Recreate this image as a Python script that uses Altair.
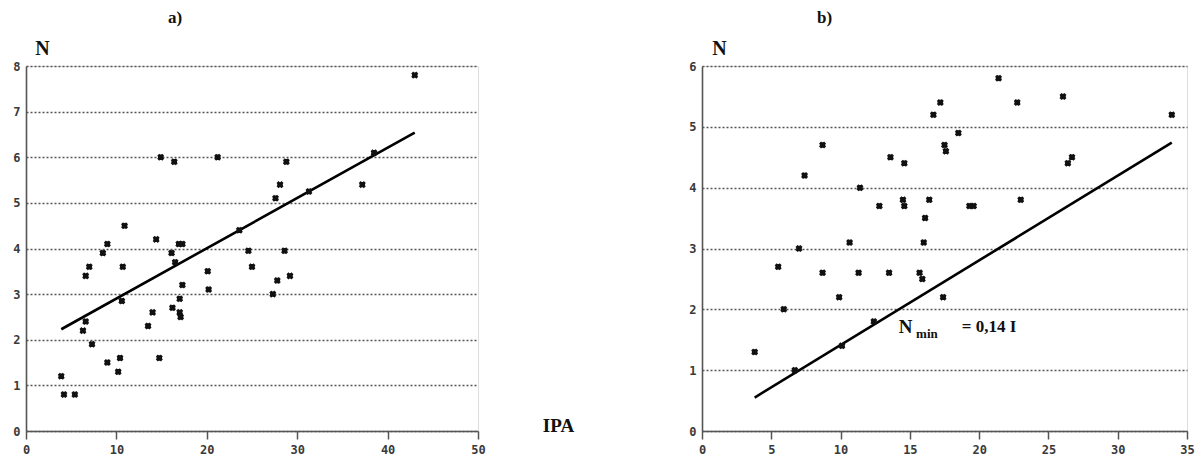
import altair as alt
import pandas as pd

# ---------------- Panel a) data ----------------
a_x = [3.9, 4.2, 5.4, 6.3, 6.6, 6.6, 7.0, 7.3, 8.5, 9.0, 9.0, 10.2, 10.4, 10.6, 10.7, 10.9,
       13.5, 14.0, 14.4, 14.75, 14.9, 16.4, 21.2, 16.1, 16.5, 16.2, 16.9, 17.3, 17.3, 17.0,
       17.0, 17.1, 20.1, 20.2, 24.6, 25.0, 28.6, 29.2, 27.8, 27.3, 43.0, 28.8, 28.1, 27.6,
       37.2, 23.6, 31.3, 38.5]
a_y = [1.2, 0.8, 0.8, 2.2, 2.4, 3.4, 3.6, 1.9, 3.9, 4.1, 1.5, 1.3, 1.6, 2.85, 3.6, 4.5,
       2.3, 2.6, 4.2, 1.6, 6.0, 5.9, 6.0, 3.9, 3.7, 2.7, 4.1, 4.1, 3.2, 2.9,
       2.6, 2.5, 3.5, 3.1, 3.95, 3.6, 3.95, 3.4, 3.3, 3.0, 7.8, 5.9, 5.4, 5.1,
       5.4, 4.4, 5.25, 6.1]
a_line_x = [3.9, 43.0]
a_line_y = [2.23, 6.54]
a_xticks = [0, 10, 20, 30, 40, 50]
a_yticks = [0, 1, 2, 3, 4, 5, 6, 7, 8]

# ---------------- Panel b) data ----------------
b_x = [8.7, 7.4, 11.4, 12.8, 13.6, 14.6, 14.5, 14.6, 16.1, 16.4, 16.7, 17.2, 17.5, 17.6,
       21.4, 22.75, 26.05, 33.9, 18.5, 26.4, 26.7, 19.3, 19.6, 23.0, 3.8, 5.5, 5.9, 7.0,
       6.7, 8.7, 9.9, 10.65, 10.1, 11.3, 12.4, 13.5, 15.7, 15.9, 16.0, 17.4]
b_y = [4.7, 4.2, 4.0, 3.7, 4.5, 4.4, 3.8, 3.7, 3.5, 3.8, 5.2, 5.4, 4.7, 4.6,
       5.8, 5.4, 5.5, 5.2, 4.9, 4.4, 4.5, 3.7, 3.7, 3.8, 1.3, 2.7, 2.0, 3.0,
       1.0, 2.6, 2.2, 3.1, 1.4, 2.6, 1.8, 2.6, 2.6, 2.5, 3.1, 2.2]
b_line_x = [3.8, 33.9]
b_line_y = [0.55, 4.74]
b_xticks = [0, 5, 10, 15, 20, 25, 30, 35]
b_yticks = [0, 1, 2, 3, 4, 5, 6]

ann_x = [14.2, 15.45, 18.75]
ann_y = [1.71, 1.60, 1.71]
ann_text = ["N", "min", "= 0,14 I"]
ann_size = [19, 13, 17]

SERIF = "Liberation Serif"
TICKFONT = "DejaVu Sans Mono"

df_a = pd.DataFrame({"I": a_x, "N": a_y})
df_a_line = pd.DataFrame({"I": a_line_x, "N": a_line_y})
df_b = pd.DataFrame({"I": b_x, "N": b_y})
df_b_line = pd.DataFrame({"I": b_line_x, "N": b_line_y})
df_ann = pd.DataFrame({"I": ann_x, "N": ann_y, "t": ann_text, "s": ann_size})

axis_common = dict(
    labelFont=TICKFONT, labelFontWeight="bold", labelFontSize=12, labelColor="#3a3a3a",
    domainColor="#555", domainWidth=1.6, format="d",
    titleFont=SERIF, titleFontWeight="bold", titleColor="#111",
    titleAngle=0, titleAlign="center", titleBaseline="middle",
)


def panel(df, df_line, xdom, ydom, xticks, yticks, w, h, title, title_dx,
          xtitle, xtitle_x, ytitle_x, extra=None):
    xaxis = alt.Axis(values=xticks, grid=False, ticks=True, tickSize=8, tickColor="#555",
                     tickWidth=1.5, labelPadding=5, labelFlush=False,
                     title=xtitle, titleX=xtitle_x, titleY=-6, titleFontSize=19,
                     **axis_common)
    yaxis = alt.Axis(values=yticks, grid=True, gridDash=[2, 2], gridColor="#555",
                     gridWidth=1.3, ticks=False, labelPadding=6, labelFlush=False,
                     title="N", titleX=ytitle_x, titleY=-18, titleFontSize=20,
                     **axis_common)
    xenc = alt.X("I:Q", scale=alt.Scale(domain=xdom, nice=False, zero=False), axis=xaxis)
    yenc = alt.Y("N:Q", scale=alt.Scale(domain=ydom, nice=False, zero=False), axis=yaxis)
    base = alt.Chart(df).encode(x=xenc, y=yenc)
    pts1 = base.mark_point(shape="cross", angle=45, filled=True, color="#111",
                           size=50, opacity=1)
    pts2 = base.mark_point(shape="cross", filled=True, color="#111", size=30, opacity=1)
    line = alt.Chart(df_line).mark_line(color="#000", strokeWidth=2.6).encode(
        x=alt.X("I:Q"), y=alt.Y("N:Q"))
    layers = [line, pts1, pts2]
    if extra is not None:
        layers.append(extra)
    return alt.layer(*layers).properties(
        width=w, height=h,
        title=alt.TitleParams(text=title, anchor="start", frame="group", dx=title_dx,
                              font=SERIF, fontSize=17, fontWeight="bold", color="#111",
                              offset=11),
    )


ann = alt.Chart(df_ann).mark_text(align="left", baseline="middle", font=SERIF,
                                  fontWeight="bold", color="#111").encode(
    x=alt.X("I:Q"), y=alt.Y("N:Q"), text="t:N", size=alt.Size("s:Q", scale=None))

chart_a = panel(df_a, df_a_line, [0, 50], [0, 8], a_xticks, a_yticks, 452, 365,
                "a)", 142, "IPA", 532, 16)
chart_b = panel(df_b, df_b_line, [0, 35], [0, 6], b_xticks, b_yticks, 485, 365,
                "b)", 115, "", 0, 17, extra=ann)

chart = alt.hconcat(chart_a, chart_b, spacing=224, bounds="flush").properties(
    padding={"left": 12, "top": 8, "right": 5, "bottom": 5}
).configure_view(stroke="#888", strokeWidth=1.5).configure(background="white")

chart.save("out.html", embed_options={"renderer": "svg", "actions": False})
